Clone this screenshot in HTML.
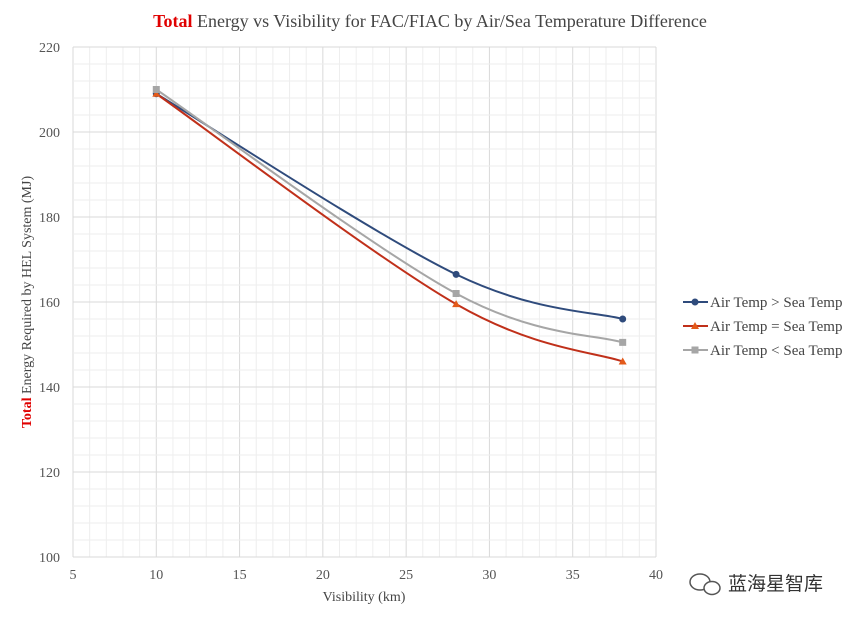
<!DOCTYPE html>
<html><head><meta charset="utf-8"><style>
body{margin:0;background:#fff;width:860px;height:621px;overflow:hidden}
svg text{font-family:"Liberation Serif",serif;}
</style></head><body>
<svg id="chart" width="860" height="621">
<text x="430" y="27" text-anchor="middle" font-size="18" fill="#444"><tspan fill="#e00000" font-weight="bold">Total</tspan> Energy vs Visibility for FAC/FIAC by Air/Sea Temperature Difference</text>
<g id="grid"></g><g id="axes"></g><g id="series"></g>
<text x="364" y="601" text-anchor="middle" font-size="14" fill="#444">Visibility (km)</text>
<text transform="translate(31,302) rotate(-90)" text-anchor="middle" font-size="14" fill="#444"><tspan fill="#e00000" font-weight="bold">Total</tspan> Energy Required by HEL System (MJ)</text>
<g id="legend"></g>
<g>
<ellipse cx="700" cy="582" rx="10" ry="8" fill="none" stroke="#555" stroke-width="1.5"/>
<ellipse cx="712" cy="588" rx="8" ry="6.5" fill="#fff" stroke="#555" stroke-width="1.5"/>
<text x="728" y="590" font-size="19" fill="#333" font-family="'Noto Sans CJK SC',sans-serif">蓝海星智库</text>
</g>
</svg>
<script>
const xVals=[10,28,38];
const seriesNames=["Air Temp > Sea Temp","Air Temp = Sea Temp","Air Temp < Sea Temp"];
const seriesGT=[209,166.5,156];
const seriesEQ=[209,159.5,146];
const seriesLT=[210,162,150.5];
const xTicks=[5,10,15,20,25,30,35,40];
const yTicks=[100,120,140,160,180,200,220];
const L=73,R=656,T=47,B=557;
const xs=v=>L+(v-5)/35*(R-L), ys=v=>B-(v-100)/120*(B-T);
const NS="http://www.w3.org/2000/svg";
function mk(p,t,a){const e=document.createElementNS(NS,t);for(const k in a)e.setAttribute(k,a[k]);p.appendChild(e);return e;}
const g=document.getElementById('grid'),ax=document.getElementById('axes');
for(let v=5;v<=40;v+=1){const l=mk(g,'line',{x1:xs(v),x2:xs(v),y1:T,y2:B,stroke:v%5?'#eeeeee':'#d9d9d9','stroke-width':1});

}
for(let v=100;v<=220;v+=4){const l=mk(g,'line',{x1:L,x2:R,y1:ys(v),y2:ys(v),stroke:v%20?'#eeeeee':'#d9d9d9','stroke-width':1});

}
xTicks.forEach(v=>{const t=mk(ax,'text',{x:xs(v),y:B+22,'text-anchor':'middle','font-size':14,fill:'#555'});t.textContent=v;

});
yTicks.forEach(v=>{const t=mk(ax,'text',{x:L-13,y:ys(v)+5,'text-anchor':'end','font-size':14,fill:'#555'});t.textContent=v;

});
const colors=['#2f4b7c','#c0301a','#a6a6a6'],data=[seriesGT,seriesEQ,seriesLT],keys=['gt','eq','lt'];
const sg=document.getElementById('series');
function marker(p,k,x,y,c){let m;
if(k==='gt')m=mk(p,'circle',{cx:x,cy:y,r:3.5,fill:c});
else if(k==='eq')m=mk(p,'polygon',{points:`${x},${y-4} ${x+4},${y+3} ${x-4},${y+3}`,fill:'#e35a1a'});
else m=mk(p,'rect',{x:x-3.5,y:y-3.5,width:7,height:7,fill:c});return m;}
data.forEach((d,i)=>{const P=d.map((v,j)=>[xs(xVals[j]),ys(v)]);
let path=`M${P[0][0]},${P[0][1]}`;
for(let j=0;j<P.length-1;j++){const p0=P[Math.max(j-1,0)],p1=P[j],p2=P[j+1],p3=P[Math.min(j+2,P.length-1)];const t=0.17;
path+=` C${p1[0]+(p2[0]-p0[0])*t},${p1[1]+(p2[1]-p0[1])*t} ${p2[0]-(p3[0]-p1[0])*t},${p2[1]-(p3[1]-p1[1])*t} ${p2[0]},${p2[1]}`;}
const pl=mk(sg,'path',{d:path,fill:'none',stroke:colors[i],'stroke-width':2});


P.forEach(p=>{const m=marker(sg,keys[i],p[0],p[1],colors[i]);

});});
const lg=document.getElementById('legend');
seriesNames.forEach((n,i)=>{const y=302+i*24;const e=mk(lg,'g',{});


mk(e,'line',{x1:683,x2:708,y1:y,y2:y,stroke:colors[i],'stroke-width':2});marker(e,keys[i],695,y,colors[i]);
const t=mk(e,'text',{x:710,y:y+5,'font-size':15,fill:'#444'});t.textContent=n;});
</script>
</body></html>
